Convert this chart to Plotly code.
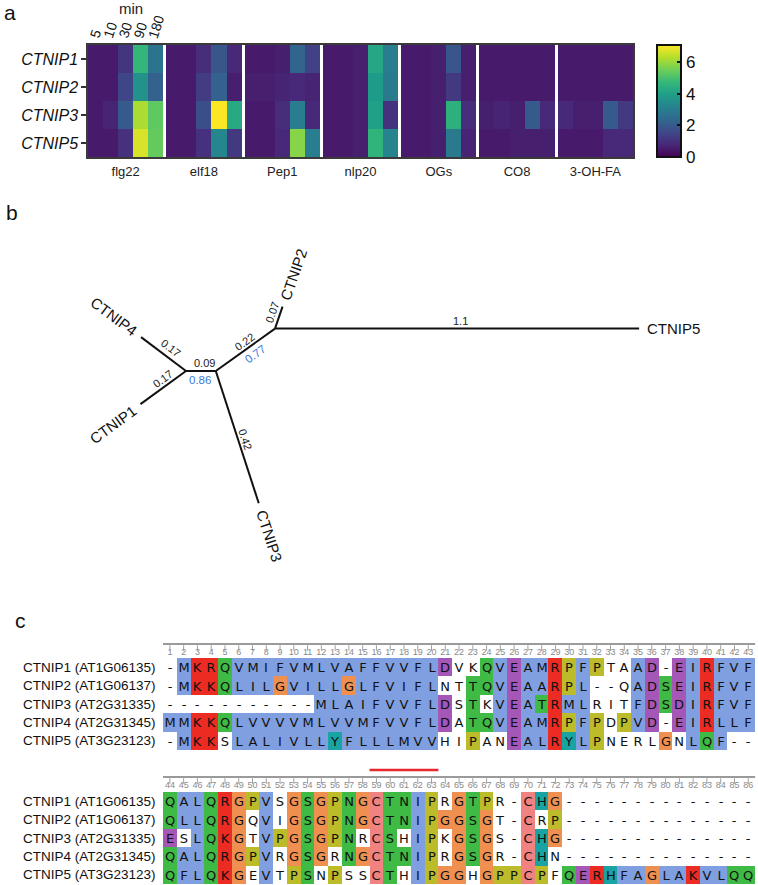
import math
import plotly.graph_objects as go

W, H = 758, 885
FONT = "Liberation Sans, Arial, sans-serif"

# ---------------- Panel a: data ----------------
genes = ["CTNIP1", "CTNIP2", "CTNIP3", "CTNIP5"]
treatments = ["flg22", "elf18", "Pep1", "nlp20", "OGs", "CO8", "3-OH-FA"]
time_points = ["5", "10", "30", "90", "180"]

# rows: CTNIP1, CTNIP2, CTNIP3, CTNIP5 ; columns: 5, 10, 30, 90, 180 min
flg22 = [[0.5, 0.5, 1.1, 4.7, 2.7],
         [0.5, 0.5, 1.5, 3.6, 2.2],
         [0.5, 0.7, 2.0, 6.2, 5.3],
         [0.5, 0.5, 1.0, 6.7, 5.4]]
elf18 = [[0.5, 0.5, 0.9, 1.9, 0.8],
         [0.5, 0.5, 1.3, 2.2, 0.6],
         [0.5, 0.5, 1.7, 7.1, 4.3],
         [0.5, 0.5, 1.0, 3.3, 1.2]]
pep1 = [[0.5, 0.5, 0.6, 2.3, 1.4],
        [0.6, 0.6, 0.7, 0.8, 0.7],
        [0.5, 0.5, 0.9, 3.0, 0.8],
        [0.5, 0.5, 0.8, 5.8, 3.0]]
nlp20 = [[0.5, 0.5, 0.6, 4.2, 3.0],
         [0.5, 0.5, 0.6, 3.9, 2.9],
         [0.5, 0.5, 0.6, 4.0, 1.0],
         [0.5, 0.5, 0.6, 4.6, 3.2]]
ogs = [[0.5, 0.5, 0.6, 1.9, 0.6],
       [0.5, 0.5, 0.6, 1.2, 0.6],
       [0.5, 0.5, 0.6, 4.5, 0.9],
       [0.5, 0.5, 0.6, 2.9, 0.7]]
co8 = [[0.5, 0.5, 0.5, 0.5, 0.5],
       [0.5, 0.5, 0.5, 0.5, 0.5],
       [0.6, 0.7, 0.6, 2.0, 0.8],
       [0.5, 0.5, 0.6, 0.6, 0.6]]
oh_fa = [[0.5, 0.5, 0.5, 0.5, 0.5],
         [0.5, 0.5, 0.5, 0.5, 0.5],
         [0.8, 0.6, 0.6, 2.0, 1.2],
         [0.5, 0.5, 0.5, 0.8, 0.8]]
colorbar_ticks = [0, 2, 4, 6]

# ---------------- Panel b: data ----------------
# (parent, child, branch length)
tree_edges = [
    ("n1", "CTNIP4", 0.17),
    ("n1", "CTNIP1", 0.17),
    ("n1", "n2", 0.09),
    ("n2", "n3", 0.22),
    ("n3", "CTNIP2", 0.07),
    ("n3", "CTNIP5", 1.1),
    ("n2", "CTNIP3", 0.42),
]
support_values = {"n2": 0.86, "n3": 0.77}

# ---------------- Panel c: data ----------------
seq_names = ["CTNIP1 (AT1G06135)", "CTNIP2 (AT1G06137)", "CTNIP3 (AT2G31335)",
             "CTNIP4 (AT2G31345)", "CTNIP5 (AT3G23123)"]
block1_seqs = [
    "-MKRQVMIFVMLVAFFVVFLDVKQVEAMRPFPTAAD-EIRFVF",
    "-MKKQLILGVILLGLFVIFLNTTQVEAARPL--QADSEIRFVF",
    "-----------MLAIFVVFLDSTKVEATRMLRITFDSDIRFVF",
    "MMKKQLVVVVMLVVMFVVFLDATQVEAMRPFPDPVD-EIRLLF",
    "-MKKSLALIVLLYFLLLMVVHIPANEALRYLPNERLGNLQF--",
]
block2_seqs = [
    "QALQRGPVSGSGPNGCTNIPRGTPR-CHG--------------",
    "QLLQRGQVIGSGPNGCTNIPGGSGT-CRP--------------",
    "ESLQKGTVPGSGPNRCSHIPKGSGS-CHG--------------",
    "QALQRGPVRGSGRNGCTNIPRGSGR-CHN--------------",
    "QFLQKGEVTPSNPSSCTHIPGGHGPPCPFQERHFAGLAKVLQQ",
]
# Clustal X residue classes: h hydrophobic, p positive, n negative, a polar,
# g glycine, r proline, c cysteine, y aromatic, . not coloured
block1_classes = [
    ".hppa" + "hhhhhhhhhhhhhhh" + "n..ahnhhprhr..hn.nhphhh",
    ".hppa" + "hhhghhhhghhhhhh" + "..aahnhhprh...hnanhphhh",
    "..........." + "hhhhhhhhh" + "n.a.hnhaphh...hnanhphhh",
    "hhppa" + "hhhhhhhhhhhhhhh" + "n.aahnhhprhr.rhn.nhphhh",
    ".hpp." + "hhhhhhhyhhhhhhh" + "..r..nhhpyhr....g.hah..",
]
block2_classes = [
    "ahhapgrh.gagragcaahr.gar..cyg" + "..............",
    "ahhapg.h.gagragcaahrggag..c.r" + "..............",
    "n.hapg.hrgagra.ca.hr.gag..cyg" + "..............",
    "ahhapgrh.gag.agcaahr.gag..cy." + "..............",
    "ahhapg.h.ra.r..ca.hrgg.grrcr." + "anpyhhghhphhaa",
]
motif_cols = (59, 63)   # underlined motif (alignment columns)
block_len = 43

# ---------------- figure ----------------
fig = go.Figure()

# ---- panel a heatmap ----
groups = [flg22, elf18, pep1, nlp20, ogs, co8, oh_fa]
GAP = 0.2
z = [[] for _ in genes]
edges, centers, cell_centers = [], [], []
pos = 0.0
for gi, grp in enumerate(groups):
    start = pos
    for ti in range(len(time_points)):
        edges.append(pos)
        if gi == 0:
            cell_centers.append(pos + 0.5)
        for r in range(len(genes)):
            z[r].append(grp[r][ti])
        pos += 1
    centers.append((start + pos) / 2)
    if gi < len(groups) - 1:
        edges.append(pos)
        for r in range(len(genes)):
            z[r].append(None)
        pos += GAP
edges.append(pos)
xmax_a = pos

fig.add_trace(go.Heatmap(
    z=z, x=edges, y=list(range(len(genes))),
    colorscale="Viridis", zmin=0, zmax=7.1, hoverongaps=False, hoverinfo="skip",
    xaxis="x", yaxis="y",
    colorbar=dict(x=657 / W, xanchor="left", y=(H - 101) / H, yanchor="middle",
                  len=112, lenmode="pixels", thickness=24, thicknessmode="pixels",
                  outlinewidth=2, outlinecolor="#111", ticks="inside", ticklen=5,
                  tickwidth=1.5, tickcolor="#111", tickvals=colorbar_ticks,
                  tickfont=dict(family=FONT, size=17, color="#111"), xpad=0, ypad=0),
))

# ---- panel b tree ----
SCALE = 331.0  # px per branch-length unit
branch_angle = {"CTNIP4": 143, "CTNIP1": 216, "n2": 0, "n3": 35.6,
                "CTNIP2": 71, "CTNIP5": 0, "CTNIP3": -72}
len_label_pos = {"CTNIP4": (0.46, -9), "CTNIP1": (0.42, -7.5), "n2": (0.63, 8),
                 "n3": (0.55, 7), "CTNIP2": (0.63, 7.5), "CTNIP5": (0.51, 8),
                 "CTNIP3": (0.53, 7)}
sup_label_pos = {"n2": (0.47, -8.5), "n3": (0.58, -9)}

coords = {"n1": (0.0, 0.0)}
lx, ly = [], []
ann = []


def norm_angle(a):
    a = (a + 180) % 360 - 180
    if a > 90:
        a -= 180
    elif a <= -90:
        a += 180
    return a


for parent, child, bl in tree_edges:
    px_, py_ = coords[parent]
    phi = math.radians(branch_angle[child])
    d = (math.cos(phi), math.sin(phi))
    n = (-math.sin(phi), math.cos(phi))
    cx, cy = px_ + bl * d[0], py_ + bl * d[1]
    coords[child] = (cx, cy)
    lx += [px_, cx, None]
    ly += [py_, cy, None]
    tang = -norm_angle(branch_angle[child])
    t, off = len_label_pos[child]
    ann.append(dict(x=px_ + t * bl * d[0] + off / SCALE * n[0],
                    y=py_ + t * bl * d[1] + off / SCALE * n[1],
                    xref="x2", yref="y2", text=f"{bl:g}", showarrow=False,
                    textangle=tang, font=dict(family=FONT, size=11, color="#222"),
                    xanchor="center", yanchor="middle"))
    if child in support_values:
        t, off = sup_label_pos[child]
        ann.append(dict(x=px_ + t * bl * d[0] + off / SCALE * n[0],
                        y=py_ + t * bl * d[1] + off / SCALE * n[1],
                        xref="x2", yref="y2", text=f"{support_values[child]:g}",
                        showarrow=False, textangle=tang,
                        font=dict(family=FONT, size=11.5, color="#3b7bd6"),
                        xanchor="center", yanchor="middle"))
    if not child.startswith("n"):
        dist = 34 / SCALE
        ann.append(dict(x=cx + dist * d[0], y=cy + dist * d[1], xref="x2", yref="y2",
                        text=child, showarrow=False, textangle=tang,
                        font=dict(family=FONT, size=15, color="#111"),
                        xanchor="center", yanchor="middle"))

fig.add_trace(go.Scatter(x=lx, y=ly, mode="lines", line=dict(color="#111", width=2),
                         xaxis="x2", yaxis="y2", hoverinfo="skip"))

# ---- panel c alignment ----
CW, RH = 13.77, 18.4
classes = [".", "h", "p", "n", "a", "g", "r", "c", "y"]
class_colors = ["#ffffff", "#7f9fe0", "#ec2b22", "#a557b8", "#3fba45",
                "#f09050", "#bcbc2a", "#f08282", "#1aa3a3"]
cs = []
for i, c in enumerate(class_colors):
    cs += [[i / len(classes), c], [(i + 1) / len(classes), c]]


def ypx(p):
    return (p - 600) / RH


blocks = [(block1_seqs, block1_classes, 0, 658, 644),
          (block2_seqs, block2_classes, block_len, 792, 777)]
cols = list(range(1, block_len + 1))
for seqs, cls, offset, top_px, ruler_px in blocks:
    zc = [[classes.index(ch) for ch in row] for row in cls]
    txt = [list(row) for row in seqs]
    yc = [ypx(top_px) + 0.5 + r for r in range(len(seqs))]
    fig.add_trace(go.Heatmap(z=zc, x=cols, y=yc, text=txt, texttemplate="%{text}",
                             textfont=dict(family="DejaVu Sans, Verdana, sans-serif",
                                           size=13, color="#111"),
                             colorscale=cs, zmin=-0.5, zmax=len(classes) - 0.5,
                             showscale=False, hoverinfo="skip", xaxis="x3", yaxis="y3"))
    # ruler
    fig.add_trace(go.Scatter(x=[0.5, block_len + 0.5], y=[ypx(ruler_px)] * 2, mode="lines",
                             line=dict(color="#9a9a9a", width=2), xaxis="x3", yaxis="y3",
                             hoverinfo="skip", cliponaxis=False))
    fig.add_trace(go.Scatter(x=cols, y=[ypx(ruler_px + 4)] * len(cols), mode="markers",
                             marker=dict(symbol="line-ns", size=4,
                                         line=dict(width=1, color="#a0a0a0")),
                             xaxis="x3", yaxis="y3", hoverinfo="skip", cliponaxis=False))
    fig.add_trace(go.Scatter(x=cols, y=[ypx(ruler_px + 9)] * len(cols), mode="text",
                             text=[str(c + offset) for c in cols],
                             textfont=dict(family=FONT, size=9, color="#8a8a8a"),
                             xaxis="x3", yaxis="y3", hoverinfo="skip", cliponaxis=False))
    for r, name in enumerate(seq_names):
        ann.append(dict(x=0.5, y=yc[r], xref="x3", yref="y3", text=name, showarrow=False,
                        xanchor="right", yanchor="middle", xshift=-5,
                        font=dict(family=FONT, size=13.5, color="#111")))

# motif underline
fig.add_trace(go.Scatter(x=[motif_cols[0] - block_len - 0.5, motif_cols[1] - block_len + 0.5],
                         y=[ypx(770)] * 2, mode="lines", line=dict(color="#e8262d", width=2.5),
                         xaxis="x3", yaxis="y3", hoverinfo="skip", cliponaxis=False))

# ---- annotations panel a ----
for i, tlab in enumerate(time_points):
    ann.append(dict(x=cell_centers[i], y=-0.5, xref="x", yref="y", text=tlab,
                    showarrow=False, textangle=-72, xanchor="center", yanchor="bottom",
                    yshift=2, font=dict(family=FONT, size=14, color="#111")))
ann.append(dict(x=centers[0], y=(H - 8) / H, xref="x", yref="paper", text="min",
                showarrow=False, xanchor="center", yanchor="middle", xshift=5,
                font=dict(family=FONT, size=15, color="#222")))
for letter, (px_, py_) in {"a": (10, 12), "b": (12, 212), "c": (20, 620)}.items():
    ann.append(dict(x=px_ / W, y=(H - py_) / H, xref="paper", yref="paper", text=letter,
                    showarrow=False, xanchor="center", yanchor="middle",
                    font=dict(family=FONT, size=21, color="#111")))

axis_off = dict(showgrid=False, zeroline=False, showticklabels=False, ticks="",
                showline=False)
fig.update_layout(
    width=W, height=H, margin=dict(l=0, r=0, t=0, b=0),
    paper_bgcolor="white", plot_bgcolor="white", showlegend=False,
    font=dict(family=FONT, color="#111"),
    xaxis=dict(domain=[88 / W, 633 / W], range=[0, xmax_a], tickvals=centers,
               ticktext=treatments, ticks="", showline=True, mirror=True,
               linecolor="#3a3a3a", linewidth=1.5, showgrid=False, zeroline=False,
               tickfont=dict(family=FONT, size=13, color="#222"), ticklabelstandoff=2),
    yaxis=dict(domain=[(H - 157) / H, (H - 45) / H], range=[len(genes) - 0.5, -0.5],
               tickvals=list(range(len(genes))), ticktext=genes, ticks="outside",
               ticklen=5, tickwidth=1.5, tickcolor="#333", showline=True, mirror=True,
               linecolor="#3a3a3a", linewidth=1.5, showgrid=False, zeroline=False,
               tickfont=dict(family=FONT, size=16, color="#111", style="italic")),
    xaxis2=dict(domain=[0, 1], range=[-186 / SCALE, (W - 186) / SCALE], anchor="y2", **axis_off),
    yaxis2=dict(domain=[(H - 590) / H, (H - 190) / H],
                range=[-(590 - 371) / SCALE, (371 - 190) / SCALE], anchor="x2", **axis_off),
    xaxis3=dict(domain=[0, 1], range=[0.5 - 163 / CW, 0.5 + (W - 163) / CW], anchor="y3", **axis_off),
    yaxis3=dict(domain=[0, (H - 600) / H], range=[(H - 600) / RH, 0], anchor="x3", **axis_off),
    annotations=ann,
)

fig.write_html("out.html", config={"displayModeBar": False},
               post_script="document.body.style.margin='0';"
                           "document.body.style.overflow='hidden';")
